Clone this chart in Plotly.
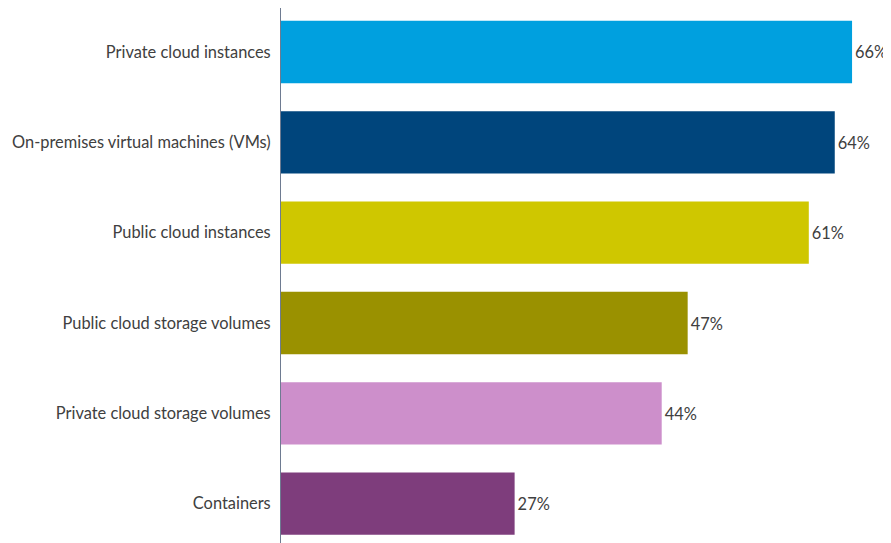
import plotly.graph_objects as go

categories = [
    "Private cloud instances",
    "On-premises virtual machines (VMs)",
    "Public cloud instances",
    "Public cloud storage volumes",
    "Private cloud storage volumes",
    "Containers",
]
values = [66, 64, 61, 47, 44, 27]
labels = ["66%", "64%", "61%", "47%", "44%", "27%"]
colors = ["#00a0df", "#00457c", "#cfc700", "#9a9100", "#cd8fcb", "#7e3d7c"]

fig = go.Figure(
    go.Bar(
        x=values,
        y=categories,
        orientation="h",
        marker=dict(color=colors, line=dict(width=0)),
        width=0.69,
        text=labels,
        textposition="outside",
        cliponaxis=False,
        textfont=dict(family="Lato", size=16.4, color="#404040"),
        hoverinfo="skip",
    )
)

fig.update_layout(
    width=883,
    height=535,
    margin=dict(l=273, r=0, t=0, b=0),
    paper_bgcolor="white",
    plot_bgcolor="white",
    showlegend=False,
    font=dict(family="Lato", size=16.4, color="#404040"),
    xaxis=dict(
        range=[0, 70.5],
        visible=False,
        showgrid=False,
        zeroline=False,
    ),
    yaxis=dict(
        range=[5.435, -0.487],
        showgrid=False,
        zeroline=False,
        showline=True,
        linecolor="#6e7b91",
        linewidth=1,
        ticks="",
        ticklabelstandoff=6,
        tickfont=dict(family="Lato", size=16.4, color="#404040"),
    ),
)

fig.write_html("out.html")
